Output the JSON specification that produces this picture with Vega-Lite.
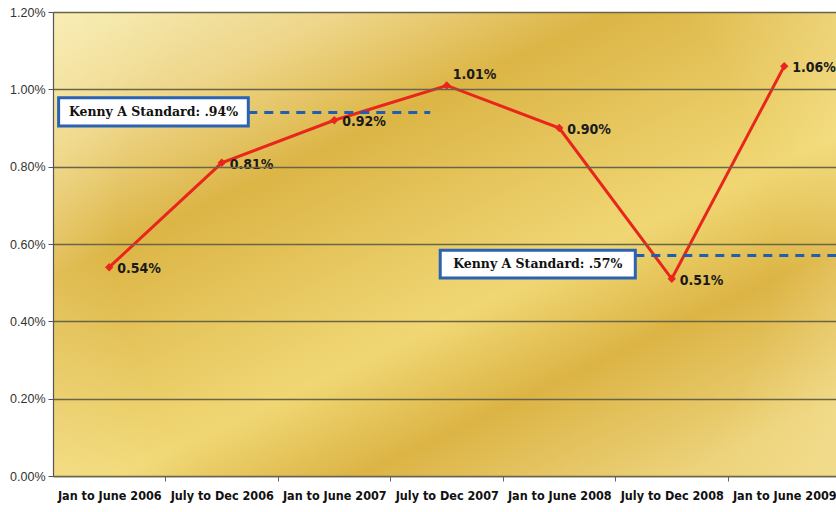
{
  "$schema": "https://vega.github.io/schema/vega-lite/v6.json",
  "width": 783,
  "height": 464,
  "autosize": {"type": "none"},
  "padding": {"left": 53, "top": 12, "right": 0, "bottom": 36},
  "background": "white",
  "config": {"view": {"stroke": null}},
  "datasets": {
    "rates": [
      {"period": "Jan to June 2006", "idx": 0, "rate": 0.0054},
      {"period": "July to Dec 2006", "idx": 1, "rate": 0.0081},
      {"period": "Jan to June 2007", "idx": 2, "rate": 0.0092},
      {"period": "July to Dec 2007", "idx": 3, "rate": 0.0101},
      {"period": "Jan to June 2008", "idx": 4, "rate": 0.0090},
      {"period": "July to Dec 2008", "idx": 5, "rate": 0.0051},
      {"period": "Jan to June 2009", "idx": 6, "rate": 0.0106}
    ],
    "standards": [
      {"label": "Kenny A Standard: .94%", "value": 0.0094, "boxStart": -0.45, "boxEnd": 1.236, "boxTop": 0.00978, "boxBottom": 0.00905, "lineEnd": 2.853},
      {"label": "Kenny A Standard: .57%", "value": 0.0057, "boxStart": 2.942, "boxEnd": 4.676, "boxTop": 0.00584, "boxBottom": 0.00512, "lineEnd": 6.46}
    ]
  },
  "layer": [
    {
      "data": {"values": [{}]},
      "mark": {
        "type": "rect",
        "fill": {
          "gradient": "linear", "x1": 0, "y1": 0, "x2": 0.8, "y2": 1,
          "stops": [
            {"offset": 0, "color": "#f6ecb6"},
            {"offset": 0.18, "color": "#eed68a"},
            {"offset": 0.35, "color": "#dcb546"},
            {"offset": 0.5, "color": "#e6c65e"},
            {"offset": 0.65, "color": "#f0d774"},
            {"offset": 0.8, "color": "#dcb445"},
            {"offset": 1, "color": "#ecd27a"}
          ]
        }
      },
      "encoding": {
        "x": {"datum": -0.5, "type": "quantitative"},
        "x2": {"datum": 6.46},
        "y": {"datum": 0, "type": "quantitative"},
        "y2": {"datum": 0.012}
      }
    },
    {
      "data": {"values": [{}]},
      "mark": {
        "type": "rect",
        "fill": {
          "gradient": "radial", "x1": 0.5, "y1": 0.5, "r1": 0, "x2": 0.5, "y2": 0.5, "r2": 0.7,
          "stops": [
            {"offset": 0, "color": "rgba(255,240,170,0)"},
            {"offset": 0.6, "color": "rgba(255,240,170,0)"},
            {"offset": 1, "color": "rgba(250,240,190,0.55)"}
          ]
        }
      },
      "encoding": {
        "x": {"datum": -0.5, "type": "quantitative"},
        "x2": {"datum": 6.46},
        "y": {"datum": 0, "type": "quantitative"},
        "y2": {"datum": 0.012}
      }
    },
    {
      "data": {"name": "rates"},
      "mark": {"type": "line", "color": "#e8261c", "strokeWidth": 3},
      "encoding": {
        "x": {
          "field": "idx", "type": "quantitative",
          "scale": {"domain": [-0.5, 6.46], "nice": false, "zero": false},
          "axis": {
            "title": null, "values": [0, 1, 2, 3, 4, 5, 6], "grid": false,
            "labelExpr": "['Jan to June 2006','July to Dec 2006','Jan to June 2007','July to Dec 2007','Jan to June 2008','July to Dec 2008','Jan to June 2009'][datum.value]",
            "tickOffset": 56, "labelOffset": -56, "tickSize": 5, "tickColor": "#666",
            "domainColor": "#555", "domainWidth": 1.5,
            "labelFont": "Liberation Sans Narrow, DejaVu Sans Condensed, Liberation Sans",
            "labelFontWeight": "bold", "labelFontSize": 12.5, "labelColor": "#111",
            "labelPadding": 8, "labelFlush": false, "labelOverlap": false
          }
        },
        "y": {
          "field": "rate", "type": "quantitative",
          "scale": {"domain": [0, 0.012], "nice": false},
          "axis": {
            "title": null, "values": [0, 0.002, 0.004, 0.006, 0.008, 0.01, 0.012],
            "format": ".2%", "grid": true, "gridColor": "#6a6448", "gridWidth": 1.3,
            "zindex": 1,
            "domainColor": "#555", "domainWidth": 1.2, "tickSize": 5, "tickColor": "#555",
            "labelFont": "Liberation Sans", "labelFontSize": 12.5, "labelColor": "#333",
            "labelPadding": 3
          }
        }
      }
    },
    {
      "data": {"name": "rates"},
      "mark": {"type": "point", "shape": "diamond", "filled": true, "color": "#e8261c", "size": 70, "opacity": 1},
      "encoding": {
        "x": {"field": "idx", "type": "quantitative"},
        "y": {"field": "rate", "type": "quantitative"}
      }
    },
    {
      "data": {"name": "rates"},
      "transform": [{"filter": "datum.idx != 3"}],
      "mark": {"type": "text", "align": "left", "baseline": "middle", "dx": 8, "dy": 2,
        "font": "Liberation Sans Narrow, DejaVu Sans Condensed, Liberation Sans", "fontWeight": "bold", "fontSize": 14, "color": "#1a1a1a"},
      "encoding": {
        "x": {"field": "idx", "type": "quantitative"},
        "y": {"field": "rate", "type": "quantitative"},
        "text": {"field": "rate", "type": "quantitative", "format": ".2%"}
      }
    },
    {
      "data": {"name": "rates"},
      "transform": [{"filter": "datum.idx == 3"}],
      "mark": {"type": "text", "align": "left", "baseline": "middle", "dx": 6, "dy": -10,
        "font": "Liberation Sans Narrow, DejaVu Sans Condensed, Liberation Sans", "fontWeight": "bold", "fontSize": 14, "color": "#1a1a1a"},
      "encoding": {
        "x": {"field": "idx", "type": "quantitative"},
        "y": {"field": "rate", "type": "quantitative"},
        "text": {"field": "rate", "type": "quantitative", "format": ".2%"}
      }
    },
    {
      "data": {"name": "standards"},
      "mark": {"type": "rule", "color": "#1f5fb0", "strokeWidth": 3, "strokeDash": [9, 7]},
      "encoding": {
        "x": {"field": "boxEnd", "type": "quantitative"},
        "x2": {"field": "lineEnd"},
        "y": {"field": "value", "type": "quantitative"}
      }
    },
    {
      "data": {"name": "standards"},
      "mark": {"type": "rect", "fill": "white", "stroke": "#2a62b4", "strokeWidth": 3},
      "encoding": {
        "x": {"field": "boxStart", "type": "quantitative"},
        "x2": {"field": "boxEnd"},
        "y": {"field": "boxTop", "type": "quantitative"},
        "y2": {"field": "boxBottom"}
      }
    },
    {
      "data": {"name": "standards"},
      "transform": [
        {"calculate": "(datum.boxStart + datum.boxEnd) / 2", "as": "cx"},
        {"calculate": "(datum.boxTop + datum.boxBottom) / 2", "as": "cy"}
      ],
      "mark": {"type": "text", "align": "center", "baseline": "middle", "font": "DejaVu Serif", "fontWeight": "bold", "fontSize": 12.5, "color": "#111"},
      "encoding": {
        "x": {"field": "cx", "type": "quantitative"},
        "y": {"field": "cy", "type": "quantitative"},
        "text": {"field": "label"}
      }
    }
  ]
}
